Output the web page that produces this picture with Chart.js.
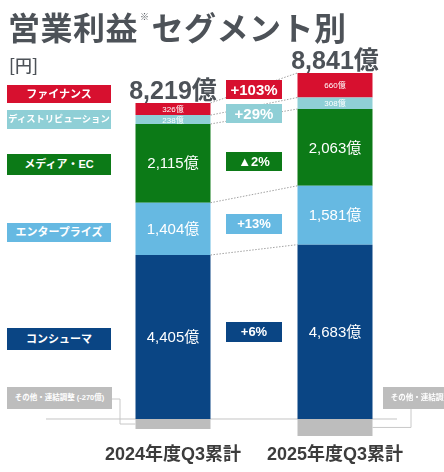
<!DOCTYPE html>
<html>
<head>
<meta charset="utf-8">
<script src="https://cdn.jsdelivr.net/npm/chart.js@4.4.0/dist/chart.umd.min.js"></script>
<style>
  body { margin: 0; background: #fff; font-family: Arial, "Noto Sans CJK JP", sans-serif; }
  #wrap { position: relative; width: 444px; height: 472px; overflow: hidden; }
  #chartBox { position: absolute; left: 0; top: 0; width: 444px; height: 472px; }
  .title { position: absolute; left: 8px; top: 3px; font-size: 32px; letter-spacing: 0.5px; font-weight: bold; color: #4d5258; white-space: nowrap; font-family: "Noto Sans CJK JP", sans-serif; }
  .title sup { font-size: 9px; vertical-align: 20px; margin: 0 2px; font-weight: normal; }
  .unit { position: absolute; left: 9px; top: 52px; font-size: 17px; font-weight: 500; color: #4d5258; font-family: "Noto Sans CJK JP", sans-serif; }
  .tag { position: absolute; color: #fff; font-weight: bold; text-align: center; white-space: nowrap; overflow: hidden; box-sizing: border-box; }
</style>
</head>
<body>
<div id="wrap">
  <div id="chartBox"><canvas id="segChart"></canvas></div>
  <div class="title">営業利益<sup>※</sup>セグメント別</div>
  <div class="unit">[円]</div>
</div>
<script>
// values in 億円, bottom of the stack first
const categories = ["2024年度Q3累計", "2025年度Q3累計"];
const consumer = [4405, 4683];
const enterprise = [1404, 1581];
const mediaEC = [2115, 2063];
const distribution = [238, 308];
const finance = [326, 660];
const otherAdj = [-270, -454];
const totals = [8219, 8841];
const segmentNames = ["コンシューマ", "エンタープライズ", "メディア・EC", "ディストリビューション", "ファイナンス"];
const changes = ["+6%", "+13%", "▲2%", "+29%", "+103%"];
const otherNames = ["その他・連結調整 (-270億)", "その他・連結調整 (-454億)"];

const colors = ["#0a4584", "#66b9e2", "#0c7a17", "#8fcfd6", "#d7102f"];
const grey = "#bdbdbd";
const FONT = 'Arial, "Noto Sans CJK JP", sans-serif';

const fmt = v => v.toLocaleString("en-US") + "億";

// html boxes: legend on the left, change rates in the middle
const wrap = document.getElementById("wrap");
const legendPos = [[328, 22], [223, 19], [154, 21], [110, 19], [85, 18]];
const legendSize = [11, 11, 11, 9.3, 11];
const changePos = [[322, 20], [214, 20], [152, 19], [104, 19], [80, 19]];
const changeSize = [13, 13, 13, 15, 15];

function addTag(text, left, top, w, h, bg, size) {
    const el = document.createElement("div");
    el.className = "tag";
    el.textContent = text;
    el.style.cssText += `left:${left}px;top:${top}px;width:${w}px;height:${h}px;line-height:${h}px;background:${bg};font-size:${size}px;`;
    wrap.appendChild(el);
}

segmentNames.forEach((name, i) => {
    addTag(name, 7, legendPos[i][0], 104, legendPos[i][1], colors[i], legendSize[i]);
    addTag(changes[i], 226, changePos[i][0], 56, changePos[i][1], colors[i], changeSize[i]);
});
addTag(otherNames[0], 7, 387, 105, 22, grey, 7.5);
addTag(otherNames[1], 383, 387, 105, 22, grey, 7.5);

const segPlugin = {
    id: "segPlugin",
    beforeDatasetsDraw(chart) {
        const ctx = chart.ctx;
        const y0 = chart.scales.y.getPixelForValue(0);
        ctx.save();
        ctx.strokeStyle = "#c4c4c4";
        ctx.lineWidth = 1;
        ctx.beginPath();
        ctx.moveTo(46, y0);
        ctx.lineTo(397, y0);
        ctx.stroke();
        ctx.restore();
    },
    afterDatasetsDraw(chart) {
        const ctx = chart.ctx;
        ctx.save();

        // dotted links between the segment tops
        ctx.setLineDash([1.5, 1.5]);
        ctx.strokeStyle = "#8a8a8a";
        ctx.lineWidth = 0.8;
        for (let d = 0; d < 5; d++) {
            const [a, b] = chart.getDatasetMeta(d).data;
            ctx.beginPath();
            ctx.moveTo(a.x + a.width / 2, a.y);
            ctx.lineTo(b.x - b.width / 2, b.y);
            ctx.stroke();
        }
        ctx.setLineDash([]);

        // values inside the segments
        ctx.fillStyle = "#fff";
        ctx.textAlign = "center";
        ctx.textBaseline = "middle";
        chart.data.datasets.forEach((ds, d) => {
            if (!ds.labelSize) return;
            ctx.font = ds.labelSize + "px " + FONT;
            chart.getDatasetMeta(d).data.forEach((bar, i) => {
                ctx.fillText(fmt(ds.data[i]), bar.x, (bar.y + bar.base) / 2 + 1);
            });
        });

        // totals above the bars
        ctx.fillStyle = "#4d5258";
        ctx.font = "bold 25px " + FONT;
        ctx.textBaseline = "alphabetic";
        chart.getDatasetMeta(4).data.forEach((bar, i) => {
            ctx.fillText(fmt(totals[i]), bar.x, bar.y - 4);
        });

        // connectors to the "other" boxes
        const [o0, o1] = chart.getDatasetMeta(5).data;
        ctx.strokeStyle = "#c8c8c8";
        ctx.lineWidth = 1;
        const m0 = (o0.y + o0.base) / 2, m1 = (o1.y + o1.base) / 2;
        ctx.beginPath();
        ctx.moveTo(112, 399);
        ctx.lineTo(120, 399);
        ctx.lineTo(120, m0);
        ctx.lineTo(o0.x - o0.width / 2, m0);
        ctx.moveTo(o1.x + o1.width / 2, m1);
        ctx.lineTo(411, m1);
        ctx.lineTo(411, 409);
        ctx.stroke();
        ctx.restore();
    }
};

const ctx = document.getElementById("segChart").getContext("2d");
const segChart = new Chart(ctx, {
    type: "bar",
    data: {
        labels: categories,
        datasets: [
            { label: segmentNames[0], data: consumer, backgroundColor: colors[0], labelSize: 15 },
            { label: segmentNames[1], data: enterprise, backgroundColor: colors[1], labelSize: 15 },
            { label: segmentNames[2], data: mediaEC, backgroundColor: colors[2], labelSize: 15 },
            { label: segmentNames[3], data: distribution, backgroundColor: colors[3], labelSize: 8 },
            { label: segmentNames[4], data: finance, backgroundColor: colors[4], labelSize: 8 },
            { label: "その他・連結調整", data: otherAdj, backgroundColor: grey },
        ],
    },
    options: {
        responsive: true,
        maintainAspectRatio: false,
        animation: false,
        layout: { padding: { left: 92, right: 28, top: 0, bottom: 0 } },
        datasets: { bar: { categoryPercentage: 1, barPercentage: 0.463, borderWidth: 0 } },
        plugins: { legend: { display: false }, tooltip: { enabled: false } },
        scales: {
            x: {
                stacked: true,
                grid: { display: false, drawTicks: false },
                border: { display: false },
                ticks: { color: "#3c3c3c", padding: 2, font: { size: 18, weight: "bold", family: FONT } },
                afterFit(scale) { scale.height = 30; },
            },
            y: {
                stacked: true,
                display: false,
                min: -618,
                max: 11254,
            },
        },
    },
    plugins: [segPlugin],
});
</script>
</body>
</html>
